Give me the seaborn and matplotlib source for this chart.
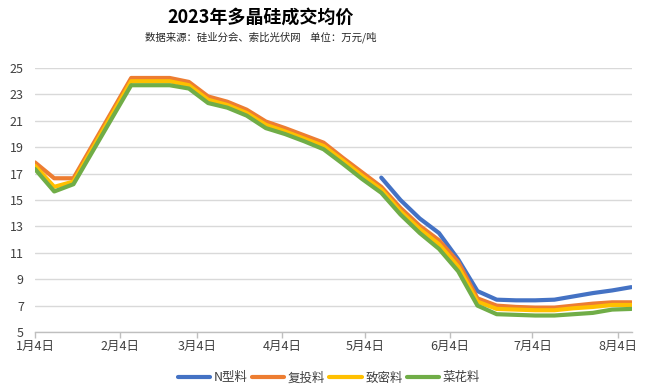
import matplotlib
matplotlib.use("Agg")
import matplotlib.pyplot as plt
import pandas as pd
import seaborn as sns

# 每周成交均价（万元/吨）
dates = ["2023-01-04", "2023-01-11", "2023-01-18", "2023-02-08", "2023-02-15",
         "2023-02-22", "2023-03-01", "2023-03-08", "2023-03-15", "2023-03-22",
         "2023-03-29", "2023-04-05", "2023-04-12", "2023-04-19", "2023-04-26",
         "2023-05-03", "2023-05-10", "2023-05-17", "2023-05-24", "2023-05-31",
         "2023-06-07", "2023-06-14", "2023-06-21", "2023-06-28", "2023-07-05",
         "2023-07-12", "2023-07-19", "2023-07-26", "2023-08-02", "2023-08-09"]

fu_tou = [17.85, 16.65, 16.65, 24.25, 24.25, 24.25, 23.95, 22.85, 22.45, 21.85,
          20.95, 20.45, 19.9, 19.35, 18.2, 17.1, 16.0, 14.4, 13.05, 11.95,
          10.3, 7.55, 7.0, 6.9, 6.85, 6.85, 7.0, 7.15, 7.25, 7.25]
zhi_mi = [17.6, 16.0, 16.4, 24.0, 24.0, 24.0, 23.7, 22.6, 22.2, 21.6,
          20.7, 20.2, 19.65, 19.1, 18.0, 16.85, 15.8, 14.15, 12.8, 11.65,
          9.95, 7.3, 6.75, 6.7, 6.65, 6.65, 6.8, 6.9, 7.05, 7.05]
cai_hua = [17.35, 15.65, 16.2, 23.7, 23.7, 23.7, 23.45, 22.35, 22.0, 21.4,
           20.45, 20.0, 19.45, 18.85, 17.75, 16.6, 15.55, 13.9, 12.5, 11.3,
           9.6, 7.0, 6.35, 6.3, 6.25, 6.25, 6.35, 6.45, 6.7, 6.75]
# N型料从5月10日开始报价
n_start = 16
n_type = [16.7, 15.0, 13.6, 12.5, 10.5, 8.1, 7.45, 7.4, 7.4, 7.45,
          7.7, 7.95, 8.15, 8.4]

tick_dates = ["2023-01-04", "2023-02-04", "2023-03-04", "2023-04-04",
              "2023-05-04", "2023-06-04", "2023-07-04", "2023-08-04"]
tick_labels = ["1月4日", "2月4日", "3月4日", "4月4日", "5月4日", "6月4日", "7月4日", "8月4日"]
y_ticks = list(range(5, 26, 2))

series = [("N型料", n_type, "#4472C4"),
          ("复投料", fu_tou, "#ED7D31"),
          ("致密料", zhi_mi, "#FFC000"),
          ("菜花料", cai_hua, "#70AD47")]

sns.set_theme(style="white")
plt.rcParams['font.family'] = ['Noto Sans CJK SC', 'DejaVu Sans']

x = pd.to_datetime(dates)

fig = plt.figure(figsize=(6.6, 3.89), dpi=100)
ax = fig.add_axes([0.053, 0.1465, 0.905, 0.6785])

for name, vals, color in series:
    xs = x[n_start:] if name == "N型料" else x
    sns.lineplot(x=xs, y=vals, ax=ax, color=color, linewidth=3, label=name)

ax.set_ylim(5, 25)
ax.set_yticks(y_ticks)
ax.set_xlim(pd.Timestamp("2023-01-04"), pd.Timestamp("2023-08-09 08:00"))
ax.set_xticks(pd.to_datetime(tick_dates))
ax.set_xticklabels(tick_labels)
ax.set_xlabel("")
ax.set_ylabel("")

ax.grid(axis="y", color="#d9d9d9", linewidth=1)
ax.set_axisbelow(True)
for side in ["left", "right", "top"]:
    ax.spines[side].set_visible(False)
ax.spines["bottom"].set_color("#bfbfbf")
ax.spines["bottom"].set_linewidth(1)
ax.tick_params(axis="y", length=0, pad=8, labelsize=9, labelcolor="#404040")
ax.tick_params(axis="x", length=4, width=1, color="#bfbfbf", pad=2,
               labelsize=9, labelcolor="#404040", bottom=True)

ax.get_legend().remove()
handles, labels = ax.get_legend_handles_labels()
leg = fig.legend(handles, labels, loc="center", bbox_to_anchor=(329 / 660, 1 - 378 / 389),
                 ncol=4, frameon=False, fontsize=9, handlelength=2.6,
                 handletextpad=0.3, columnspacing=0.3)
for t in leg.get_texts():
    t.set_color("#404040")

fig.text(261 / 660, 1 - 17 / 389, "2023年多晶硅成交均价", ha="center", va="center",
         fontsize=13, fontweight="bold", color="black")
fig.text(261 / 660, 1 - 37 / 389, "数据来源：硅业分会、索比光伏网    单位：万元/吨",
         ha="center", va="center", fontsize=7.5, color="#262626")

fig.savefig("out.png", dpi=100)
